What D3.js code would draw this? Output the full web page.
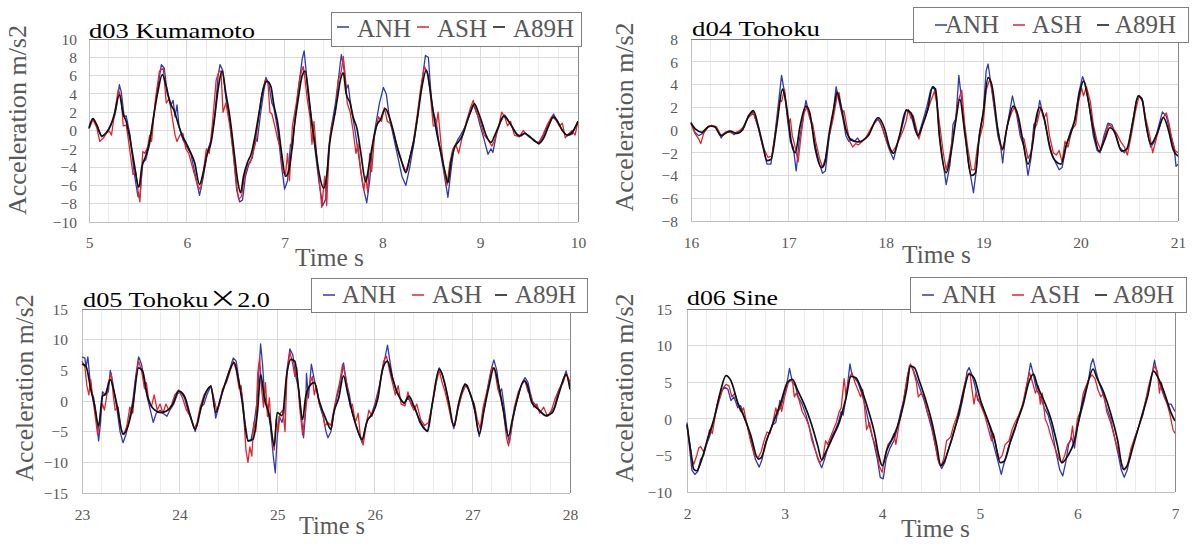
<!DOCTYPE html>
<html><head><meta charset="utf-8">
<script src="https://cdnjs.cloudflare.com/ajax/libs/d3/7.8.5/d3.min.js"></script>
<style>body{margin:0;background:#fff}svg{display:block}</style>
</head><body><svg id="c" width="1194" height="544"></svg>
<script>
// ---------- DATA ----------
const seriesNames = ["ANH", "ASH", "A89H"];
const titles = ["d03 Kumamoto", "d04 Tohoku", "d05 Tohoku×2.0", "d06 Sine"];

const yTicks03 = [-10,-8,-6,-4,-2,0,2,4,6,8,10];
const yTicks04 = [-8,-6,-4,-2,0,2,4,6,8];
const yTicks05 = [-15,-10,-5,0,5,10,15];
const yTicks06 = [-10,-5,0,5,10,15];
const xTicks03 = [5,6,7,8,9,10];
const xTicks04 = [16,17,18,19,20,21];
const xTicks05 = [23,24,25,26,27,28];
const xTicks06 = [2,3,4,5,6,7];

// d03 Kumamoto  [time s, acceleration m/s2]
const d03ANH = [[5.00,0.2],[5.04,1.3],[5.08,0.5],[5.13,-0.7],[5.18,-0.3],[5.22,0.6],[5.26,1.5],[5.28,2.5],[5.31,5.0],[5.33,4.2],[5.36,1.5],[5.38,1.6],[5.42,-0.5],[5.46,-4.5],[5.50,-7.2],[5.52,-7.3],[5.55,-3.5],[5.58,-3.2],[5.62,-1.5],[5.66,1.5],[5.70,4.5],[5.74,7.2],[5.77,6.8],[5.80,4.0],[5.82,3.5],[5.84,2.8],[5.86,3.3],[5.88,1.5],[5.90,2.8],[5.92,0.5],[5.96,-1.0],[6.00,-1.8],[6.04,-2.5],[6.08,-4.5],[6.13,-7.1],[6.17,-5.0],[6.21,-2.3],[6.25,-1.0],[6.29,2.0],[6.32,6.0],[6.34,7.2],[6.37,6.5],[6.40,3.5],[6.44,1.0],[6.48,-3.0],[6.51,-6.5],[6.54,-7.8],[6.57,-7.6],[6.60,-5.0],[6.64,-3.5],[6.67,-3.0],[6.70,-0.8],[6.72,-1.2],[6.75,1.5],[6.79,4.5],[6.81,5.8],[6.84,5.0],[6.87,3.0],[6.89,2.5],[6.93,0.0],[6.97,-4.0],[7.00,-6.4],[7.03,-5.5],[7.06,-1.5],[7.08,-2.0],[7.10,0.5],[7.14,4.5],[7.18,7.8],[7.20,8.7],[7.22,6.5],[7.24,4.0],[7.27,1.8],[7.31,-2.0],[7.35,-5.5],[7.39,-8.2],[7.42,-7.5],[7.45,-2.0],[7.48,0.5],[7.52,3.0],[7.56,6.5],[7.58,8.3],[7.61,6.5],[7.63,4.5],[7.65,5.0],[7.68,2.5],[7.72,0.0],[7.76,-3.0],[7.80,-6.0],[7.84,-7.9],[7.87,-5.5],[7.90,-1.5],[7.93,0.5],[7.97,3.0],[8.01,4.7],[8.04,4.0],[8.07,1.5],[8.11,-0.5],[8.15,-2.5],[8.20,-5.0],[8.24,-6.0],[8.28,-4.0],[8.32,-1.5],[8.36,1.5],[8.40,5.0],[8.44,8.2],[8.47,8.0],[8.50,3.5],[8.52,2.0],[8.55,1.0],[8.58,-1.5],[8.62,-4.0],[8.67,-7.3],[8.70,-4.5],[8.73,-2.0],[8.77,-1.0],[8.80,-0.5],[8.85,0.5],[8.90,2.0],[8.93,2.8],[8.97,1.8],[9.00,0.5],[9.04,-1.0],[9.08,-2.6],[9.11,-2.0],[9.13,-2.4],[9.17,-0.2],[9.21,1.0],[9.25,1.7],[9.29,1.0],[9.33,0.4],[9.37,-0.4],[9.42,-0.6],[9.46,-0.3],[9.50,-0.7],[9.55,-1.0],[9.60,-1.5],[9.65,-0.5],[9.70,0.8],[9.75,1.8],[9.79,1.0],[9.84,0.0],[9.89,-0.6],[9.94,-0.4],[10.00,1.0]];
const d03ASH = [[5.00,0.2],[5.04,1.2],[5.08,0.3],[5.11,-1.2],[5.15,-0.8],[5.18,-0.2],[5.21,-0.1],[5.23,-0.5],[5.26,1.8],[5.30,4.5],[5.33,3.5],[5.35,0.5],[5.38,0.6],[5.40,-0.8],[5.45,-4.8],[5.48,-4.6],[5.50,-6.5],[5.52,-7.8],[5.55,-2.3],[5.57,-2.5],[5.60,-1.8],[5.62,-0.5],[5.64,-1.2],[5.68,3.5],[5.72,6.5],[5.76,6.8],[5.79,3.0],[5.82,3.5],[5.85,1.5],[5.88,-0.5],[5.90,-1.2],[5.93,-0.5],[5.96,-0.3],[5.99,-2.0],[6.02,-2.5],[6.07,-4.5],[6.11,-6.0],[6.14,-6.5],[6.17,-4.5],[6.20,-2.0],[6.23,-2.5],[6.26,0.5],[6.30,5.5],[6.33,6.5],[6.35,6.5],[6.37,2.0],[6.40,3.0],[6.44,0.5],[6.47,-2.0],[6.51,-6.0],[6.53,-7.5],[6.56,-7.2],[6.59,-5.0],[6.62,-3.8],[6.65,-3.5],[6.70,-1.5],[6.73,1.0],[6.76,3.5],[6.80,5.5],[6.83,5.2],[6.85,2.0],[6.87,1.8],[6.90,0.5],[6.93,-1.0],[6.96,-2.0],[6.98,-4.5],[7.01,-4.8],[7.03,-2.5],[7.05,-5.5],[7.08,0.5],[7.12,3.0],[7.16,6.0],[7.19,7.0],[7.21,5.5],[7.23,3.5],[7.26,1.5],[7.28,-1.5],[7.30,1.0],[7.33,-3.0],[7.36,-6.0],[7.38,-8.4],[7.41,-5.0],[7.43,-8.2],[7.46,-1.0],[7.48,0.5],[7.52,2.0],[7.55,5.5],[7.58,6.5],[7.60,8.1],[7.62,6.0],[7.64,3.0],[7.67,2.0],[7.70,0.0],[7.73,-2.5],[7.75,-1.5],[7.78,-4.5],[7.81,-6.5],[7.83,-5.0],[7.85,-6.8],[7.87,-2.5],[7.89,-4.5],[7.92,-0.5],[7.96,1.5],[7.99,1.0],[8.02,2.5],[8.05,1.0],[8.08,0.8],[8.12,-0.5],[8.16,-2.0],[8.20,-3.5],[8.24,-4.5],[8.28,-3.0],[8.32,-1.0],[8.36,2.0],[8.39,4.5],[8.43,7.0],[8.47,6.0],[8.49,4.0],[8.52,0.5],[8.55,0.5],[8.57,2.0],[8.60,-1.5],[8.63,-4.5],[8.66,-6.0],[8.69,-3.5],[8.72,-2.0],[8.75,-1.5],[8.78,-2.5],[8.82,-0.5],[8.86,1.0],[8.90,2.5],[8.93,3.3],[8.96,2.0],[9.00,1.0],[9.04,-0.5],[9.08,-1.0],[9.12,-1.7],[9.15,-1.0],[9.19,0.5],[9.22,2.0],[9.25,1.5],[9.28,0.5],[9.31,1.0],[9.35,-0.5],[9.40,-0.7],[9.44,0.0],[9.48,-0.5],[9.52,-0.8],[9.56,-1.2],[9.60,-1.3],[9.64,-0.5],[9.68,0.5],[9.73,1.5],[9.77,1.2],[9.81,0.5],[9.84,0.8],[9.87,-0.8],[9.90,-0.4],[9.94,0.0],[9.97,-0.5],[10.00,1.0]];
const d03A89H = [[5.00,0.3],[5.04,1.3],[5.08,0.6],[5.13,-0.6],[5.18,-0.2],[5.22,0.5],[5.26,1.8],[5.31,3.9],[5.35,1.8],[5.38,1.0],[5.42,-1.0],[5.46,-3.5],[5.51,-6.2],[5.54,-4.0],[5.58,-2.8],[5.62,-1.2],[5.66,1.5],[5.70,4.0],[5.75,6.1],[5.79,4.8],[5.83,3.0],[5.87,2.2],[5.91,0.8],[5.95,-0.5],[5.99,-1.3],[6.03,-2.2],[6.08,-3.5],[6.13,-5.9],[6.17,-4.5],[6.21,-2.5],[6.25,-1.2],[6.28,1.0],[6.32,4.5],[6.36,6.5],[6.40,4.0],[6.44,1.5],[6.48,-2.0],[6.52,-5.5],[6.55,-6.8],[6.58,-5.0],[6.62,-3.5],[6.66,-2.5],[6.70,-0.5],[6.74,2.0],[6.78,4.5],[6.82,5.4],[6.86,4.8],[6.89,2.8],[6.93,0.8],[6.97,-2.5],[7.01,-5.0],[7.04,-4.5],[7.07,-2.5],[7.10,0.5],[7.14,3.5],[7.18,6.0],[7.21,6.5],[7.24,4.5],[7.27,1.5],[7.31,-1.5],[7.35,-4.5],[7.40,-6.3],[7.43,-5.0],[7.46,-1.5],[7.50,1.0],[7.54,3.5],[7.57,5.5],[7.60,6.3],[7.63,4.0],[7.67,3.0],[7.70,1.5],[7.74,0.2],[7.78,-2.5],[7.83,-5.6],[7.86,-4.0],[7.90,-1.5],[7.94,0.5],[7.98,1.2],[8.03,2.4],[8.07,1.5],[8.11,0.0],[8.15,-1.8],[8.20,-3.5],[8.24,-4.6],[8.28,-3.0],[8.32,-1.2],[8.36,1.5],[8.40,4.5],[8.45,6.6],[8.48,5.0],[8.52,2.0],[8.56,-0.5],[8.60,-2.5],[8.64,-4.5],[8.67,-5.7],[8.70,-3.5],[8.74,-1.8],[8.78,-1.2],[8.82,-0.5],[8.86,0.8],[8.90,2.0],[8.94,2.9],[8.98,2.0],[9.02,0.8],[9.06,-0.5],[9.11,-1.3],[9.15,-0.5],[9.19,0.5],[9.24,1.6],[9.28,1.2],[9.32,0.5],[9.36,-0.2],[9.40,-0.6],[9.45,-0.3],[9.50,-0.6],[9.55,-1.1],[9.60,-1.4],[9.65,-0.8],[9.70,0.5],[9.75,1.5],[9.79,1.0],[9.84,0.0],[9.89,-0.5],[9.94,-0.2],[10.00,1.0]];

// d04 Tohoku
const d04ANH = [[16.00,0.7],[16.04,-0.2],[16.08,-0.5],[16.12,-0.3],[16.17,0.2],[16.21,0.4],[16.26,0.2],[16.31,-0.7],[16.35,-0.2],[16.40,-0.1],[16.44,-0.4],[16.49,-0.2],[16.53,0.0],[16.59,1.3],[16.64,1.6],[16.69,0.2],[16.74,-1.6],[16.78,-3.0],[16.82,-3.0],[16.86,-0.5],[16.90,2.5],[16.93,4.8],[16.96,3.3],[16.99,1.0],[17.02,-1.0],[17.05,-1.5],[17.08,-3.6],[17.11,-1.0],[17.14,0.5],[17.18,2.6],[17.22,1.2],[17.25,0.0],[17.28,-1.5],[17.32,-3.0],[17.35,-3.8],[17.38,-3.6],[17.42,-0.5],[17.46,1.5],[17.49,3.8],[17.52,2.5],[17.56,1.0],[17.59,-0.5],[17.62,-1.0],[17.65,-0.8],[17.68,-1.0],[17.71,-0.7],[17.74,-1.1],[17.78,-0.8],[17.82,-0.4],[17.87,0.4],[17.92,1.0],[17.96,0.3],[18.00,-0.8],[18.04,-1.8],[18.08,-2.6],[18.12,-1.2],[18.16,0.0],[18.21,1.8],[18.26,1.3],[18.30,0.0],[18.33,-0.6],[18.37,0.5],[18.42,2.0],[18.46,3.5],[18.49,3.8],[18.52,3.0],[18.55,-0.5],[18.59,-3.0],[18.62,-4.8],[18.66,-3.0],[18.69,0.5],[18.72,1.0],[18.75,4.8],[18.78,2.5],[18.81,0.0],[18.85,-3.0],[18.88,-4.5],[18.90,-5.5],[18.93,-3.5],[18.96,-0.5],[19.00,1.5],[19.03,5.2],[19.05,5.8],[19.08,4.0],[19.12,1.5],[19.15,-0.5],[19.18,-1.5],[19.20,-2.9],[19.23,-0.5],[19.27,1.5],[19.30,3.0],[19.34,1.5],[19.38,-0.5],[19.42,-1.5],[19.46,-4.0],[19.49,-2.5],[19.52,0.5],[19.55,0.8],[19.58,2.6],[19.62,1.2],[19.66,-0.5],[19.70,-2.0],[19.74,-2.8],[19.78,-3.5],[19.81,-3.3],[19.85,-1.5],[19.90,0.0],[19.94,0.7],[19.98,3.2],[20.02,4.7],[20.05,4.0],[20.09,2.0],[20.13,-0.5],[20.17,-1.8],[20.20,-2.0],[20.24,-0.5],[20.28,0.6],[20.32,0.5],[20.36,-0.5],[20.40,-1.5],[20.45,-2.0],[20.49,-1.5],[20.53,0.5],[20.57,2.5],[20.60,3.0],[20.64,2.5],[20.68,0.0],[20.72,-1.5],[20.76,-1.0],[20.80,0.3],[20.84,1.6],[20.88,1.2],[20.92,-0.2],[20.96,-1.5],[20.98,-3.2],[21.00,-3.0]];
const d04ASH = [[16.00,0.6],[16.04,-0.3],[16.08,-0.8],[16.10,-1.2],[16.13,-0.3],[16.17,0.2],[16.21,0.4],[16.26,0.3],[16.31,-0.5],[16.35,-0.2],[16.40,-0.2],[16.44,-0.3],[16.49,-0.1],[16.53,0.2],[16.59,1.1],[16.64,1.5],[16.69,0.3],[16.74,-1.5],[16.79,-2.4],[16.83,-2.3],[16.87,0.0],[16.91,2.6],[16.93,2.5],[16.96,3.6],[16.98,2.0],[17.00,0.5],[17.02,1.0],[17.04,-0.5],[17.07,-1.5],[17.10,-2.8],[17.13,-0.5],[17.16,1.5],[17.19,2.0],[17.22,1.0],[17.25,0.5],[17.28,-1.0],[17.32,-2.5],[17.35,-3.3],[17.38,-2.5],[17.42,-0.5],[17.46,1.0],[17.50,3.0],[17.52,3.3],[17.55,1.5],[17.57,1.7],[17.60,0.3],[17.63,-1.0],[17.66,-1.5],[17.69,-1.2],[17.72,-1.3],[17.76,-1.0],[17.80,-0.6],[17.85,0.2],[17.90,0.9],[17.94,0.8],[17.98,-0.2],[18.02,-1.3],[18.06,-2.0],[18.10,-1.5],[18.14,-0.8],[18.18,0.0],[18.21,0.8],[18.23,1.8],[18.26,1.0],[18.28,1.3],[18.31,0.3],[18.34,-0.8],[18.38,0.5],[18.42,1.5],[18.46,2.5],[18.50,3.4],[18.53,2.0],[18.56,0.0],[18.59,-2.0],[18.62,-3.5],[18.65,-2.5],[18.68,-1.0],[18.71,0.5],[18.74,2.5],[18.78,3.5],[18.81,0.5],[18.84,-1.5],[18.88,-3.5],[18.91,-3.5],[18.94,-1.5],[18.97,-0.5],[19.00,0.5],[19.03,3.5],[19.07,4.5],[19.10,3.0],[19.13,1.0],[19.16,-0.5],[19.19,-1.8],[19.22,-1.0],[19.25,0.5],[19.29,1.5],[19.32,2.0],[19.36,1.0],[19.39,-0.5],[19.42,-0.8],[19.46,-2.5],[19.49,-2.0],[19.52,0.0],[19.55,0.5],[19.59,2.0],[19.62,1.0],[19.65,1.5],[19.68,-0.5],[19.72,-2.0],[19.75,-2.2],[19.78,-1.8],[19.81,-2.8],[19.84,-1.0],[19.87,-1.5],[19.91,0.0],[19.95,0.5],[19.98,2.5],[20.01,3.7],[20.03,3.0],[20.06,3.8],[20.10,2.5],[20.13,0.5],[20.17,-1.0],[20.21,-1.8],[20.25,-0.5],[20.29,0.5],[20.33,0.2],[20.37,-0.3],[20.41,-1.0],[20.45,-1.5],[20.48,-2.2],[20.52,-0.5],[20.56,1.5],[20.60,3.0],[20.63,2.8],[20.67,1.0],[20.71,-0.5],[20.74,-2.0],[20.77,-1.0],[20.80,0.0],[20.84,1.0],[20.88,1.5],[20.91,0.5],[20.94,-1.0],[20.97,-1.8],[21.00,-2.0]];
const d04A89H = [[16.00,0.6],[16.05,0.05],[16.11,-0.2],[16.19,0.35],[16.24,0.3],[16.31,-0.5],[16.40,-0.1],[16.47,-0.3],[16.53,0.05],[16.59,1.2],[16.64,1.7],[16.69,0.35],[16.74,-1.4],[16.78,-2.7],[16.82,-2.6],[16.88,0.35],[16.94,3.6],[16.96,3.1],[17.00,0.9],[17.03,-1.1],[17.07,-2.0],[17.12,0.35],[17.18,2.1],[17.22,1.5],[17.27,-1.4],[17.34,-3.3],[17.37,-3.0],[17.42,-0.2],[17.47,2.1],[17.50,3.3],[17.54,2.1],[17.59,0.05],[17.65,-0.9],[17.71,-1.05],[17.82,-0.5],[17.92,1.1],[17.99,0.05],[18.04,-1.55],[18.08,-2.05],[18.14,-0.5],[18.21,1.75],[18.26,1.5],[18.33,-0.5],[18.38,0.5],[18.43,1.8],[18.48,3.8],[18.51,3.6],[18.55,-0.5],[18.62,-3.75],[18.67,-2.0],[18.72,0.9],[18.76,2.7],[18.81,-0.2],[18.88,-4.0],[18.92,-3.75],[18.96,-0.5],[19.00,1.5],[19.05,4.6],[19.09,3.9],[19.15,0.05],[19.20,-1.7],[19.24,0.05],[19.31,2.1],[19.36,1.2],[19.41,-1.1],[19.46,-3.0],[19.51,-1.1],[19.54,0.9],[19.58,2.0],[19.63,0.9],[19.68,-1.4],[19.73,-2.6],[19.80,-3.0],[19.85,-1.4],[19.94,0.9],[19.99,3.3],[20.03,4.3],[20.07,3.0],[20.13,0.05],[20.19,-1.85],[20.25,-0.8],[20.30,0.2],[20.35,-0.2],[20.42,-1.85],[20.47,-1.7],[20.54,0.9],[20.59,3.0],[20.63,2.7],[20.67,0.6],[20.72,-1.25],[20.79,-0.2],[20.85,1.1],[20.90,0.05],[20.95,-1.7],[21.00,-2.3]];

// d05 Tohoku x2.0
const d05ANH = [[23.00,7.2],[23.03,7.0],[23.04,5.5],[23.06,7.2],[23.09,2.0],[23.12,0.5],[23.15,-3.0],[23.17,-6.5],[23.19,-3.5],[23.21,1.5],[23.24,1.0],[23.27,1.5],[23.29,5.0],[23.31,3.5],[23.33,1.5],[23.36,-1.5],[23.39,-5.0],[23.42,-6.8],[23.45,-5.5],[23.49,-2.5],[23.52,0.0],[23.55,4.0],[23.58,7.2],[23.61,6.0],[23.64,3.0],[23.67,0.5],[23.70,-1.5],[23.73,-3.5],[23.76,-2.0],[23.80,-1.5],[23.83,-2.0],[23.87,-2.5],[23.90,-1.5],[23.94,-0.5],[23.98,1.2],[24.01,1.5],[24.05,0.5],[24.09,-1.8],[24.13,-3.5],[24.16,-5.0],[24.19,-3.0],[24.22,-1.0],[24.25,-0.5],[24.28,1.0],[24.32,2.5],[24.35,0.0],[24.37,-2.8],[24.40,-1.0],[24.44,1.5],[24.48,3.5],[24.52,5.5],[24.55,7.0],[24.58,6.5],[24.61,3.0],[24.64,1.0],[24.67,-3.5],[24.70,-6.5],[24.73,-6.5],[24.76,-4.0],[24.79,-0.5],[24.81,4.0],[24.83,9.3],[24.85,6.0],[24.87,1.0],[24.90,-1.0],[24.93,-4.0],[24.96,-9.0],[24.98,-11.7],[25.00,-6.0],[25.02,-2.5],[25.05,-3.5],[25.07,-2.0],[25.10,5.0],[25.13,8.5],[25.16,7.5],[25.19,4.0],[25.22,2.0],[25.25,-3.0],[25.27,-6.0],[25.29,-2.0],[25.30,4.5],[25.32,0.5],[25.35,6.0],[25.38,3.5],[25.41,1.5],[25.44,-1.0],[25.47,-2.5],[25.50,-5.0],[25.52,-6.0],[25.55,-5.0],[25.58,-2.0],[25.61,0.5],[25.65,3.0],[25.68,6.2],[25.71,3.0],[25.74,1.0],[25.77,-2.0],[25.80,-3.5],[25.84,-5.5],[25.87,-6.8],[25.90,-4.5],[25.93,-3.0],[25.96,-2.5],[26.00,-0.5],[26.04,2.0],[26.08,5.0],[26.11,7.5],[26.13,9.1],[26.15,7.0],[26.18,4.0],[26.22,1.5],[26.26,0.5],[26.30,-0.5],[26.34,0.5],[26.38,-0.5],[26.42,-1.5],[26.46,-3.5],[26.50,-4.5],[26.54,-5.0],[26.58,-1.5],[26.62,2.5],[26.66,5.4],[26.69,4.5],[26.72,2.5],[26.75,0.5],[26.78,-2.5],[26.81,-4.5],[26.84,-2.0],[26.88,0.5],[26.92,2.8],[26.95,2.5],[26.99,0.5],[27.03,-2.0],[27.07,-5.8],[27.10,-3.0],[27.13,-0.5],[27.16,2.5],[27.19,5.0],[27.22,6.7],[27.25,5.0],[27.28,1.5],[27.30,2.0],[27.33,-1.5],[27.36,-5.5],[27.38,-6.8],[27.41,-3.5],[27.44,-1.0],[27.48,1.5],[27.51,3.0],[27.54,3.8],[27.57,3.0],[27.61,0.0],[27.64,-0.5],[27.68,-1.5],[27.72,-2.0],[27.76,-2.5],[27.80,-2.0],[27.84,-1.0],[27.88,1.5],[27.92,3.0],[27.96,4.9],[27.99,3.0],[28.00,2.5]];
const d05ASH = [[23.00,6.5],[23.03,5.5],[23.05,2.5],[23.07,1.0],[23.09,3.5],[23.11,0.5],[23.14,-3.0],[23.16,-5.5],[23.19,-2.0],[23.21,-0.5],[23.23,-1.5],[23.25,0.5],[23.27,3.0],[23.30,4.5],[23.32,1.0],[23.34,-1.5],[23.37,-1.0],[23.40,-4.5],[23.43,-5.5],[23.46,-4.0],[23.49,-1.0],[23.52,-2.0],[23.55,3.5],[23.58,6.5],[23.61,5.0],[23.64,2.0],[23.66,3.0],[23.68,0.5],[23.71,-1.0],[23.74,1.0],[23.77,-1.5],[23.80,-0.5],[23.83,-2.0],[23.86,-0.5],[23.89,-1.5],[23.92,-0.5],[23.95,1.0],[23.99,1.8],[24.03,0.5],[24.07,-1.5],[24.11,-2.5],[24.15,-4.5],[24.18,-3.5],[24.21,-1.0],[24.25,1.0],[24.29,2.0],[24.32,2.5],[24.35,0.5],[24.38,-1.5],[24.41,-0.5],[24.44,2.0],[24.48,3.0],[24.52,5.0],[24.55,6.5],[24.58,5.0],[24.61,2.0],[24.63,2.5],[24.66,-3.0],[24.68,-8.0],[24.70,-10.0],[24.72,-7.5],[24.74,-9.0],[24.76,-3.5],[24.78,-5.0],[24.80,4.5],[24.82,7.0],[24.84,2.0],[24.86,-1.0],[24.88,3.0],[24.90,-2.5],[24.92,0.5],[24.94,-5.0],[24.97,-8.0],[24.99,-3.0],[25.01,-5.0],[25.03,-2.0],[25.06,-1.5],[25.08,-5.0],[25.10,4.5],[25.13,8.0],[25.16,6.0],[25.18,4.0],[25.20,5.5],[25.23,-1.0],[25.26,-5.5],[25.28,-3.0],[25.31,1.0],[25.33,2.5],[25.36,4.0],[25.38,1.0],[25.40,2.5],[25.43,-0.5],[25.46,-1.5],[25.49,-4.0],[25.52,-3.5],[25.55,-4.0],[25.58,-1.5],[25.61,1.0],[25.64,3.0],[25.67,6.0],[25.70,4.0],[25.73,1.0],[25.75,-1.0],[25.77,-0.5],[25.80,-3.5],[25.83,-2.0],[25.85,-5.5],[25.88,-7.2],[25.91,-4.0],[25.94,-1.5],[25.97,-2.5],[26.01,-0.5],[26.05,2.5],[26.09,6.5],[26.12,7.3],[26.15,5.0],[26.18,3.0],[26.21,1.0],[26.24,2.5],[26.27,-0.5],[26.31,-0.8],[26.34,1.5],[26.37,-0.5],[26.40,-1.5],[26.43,-0.5],[26.47,-3.0],[26.51,-4.0],[26.55,-3.5],[26.59,-0.5],[26.63,3.0],[26.66,5.0],[26.69,3.0],[26.72,1.5],[26.75,-0.5],[26.79,-3.5],[26.82,-4.0],[26.85,-1.5],[26.89,1.0],[26.93,2.5],[26.96,2.0],[26.99,0.5],[27.02,-0.5],[27.05,-3.0],[27.08,-4.5],[27.11,-1.0],[27.14,1.0],[27.17,3.0],[27.20,5.5],[27.23,5.0],[27.26,2.0],[27.29,0.5],[27.32,-2.0],[27.35,-6.0],[27.37,-7.3],[27.40,-4.5],[27.43,-1.0],[27.47,1.5],[27.51,2.8],[27.54,3.3],[27.57,1.5],[27.60,1.0],[27.63,-1.0],[27.66,-0.5],[27.69,-2.0],[27.73,-1.0],[27.77,-2.5],[27.81,-1.5],[27.85,0.5],[27.89,2.0],[27.93,3.0],[27.96,4.5],[27.99,3.5],[28.00,3.0]];
const d05A89H = [[23.00,6.0],[23.04,5.7],[23.09,1.9],[23.13,-0.8],[23.17,-4.1],[23.21,0.8],[23.24,1.1],[23.29,3.5],[23.33,1.4],[23.36,-0.8],[23.42,-5.4],[23.46,-4.6],[23.52,-0.8],[23.58,5.4],[23.62,4.9],[23.67,0.8],[23.74,-1.4],[23.81,-1.9],[23.87,-1.6],[23.93,-0.5],[23.99,1.6],[24.05,0.8],[24.11,-2.4],[24.16,-4.6],[24.22,-1.1],[24.27,1.4],[24.32,2.4],[24.37,-1.9],[24.42,0.5],[24.47,3.0],[24.56,6.25],[24.60,3.8],[24.64,0.0],[24.70,-6.5],[24.75,-6.25],[24.80,-1.4],[24.83,4.35],[24.87,0.3],[24.92,-2.4],[24.97,-7.3],[25.00,-1.9],[25.05,-2.4],[25.10,4.6],[25.14,6.8],[25.18,6.5],[25.22,1.9],[25.26,-3.0],[25.29,0.5],[25.33,2.4],[25.38,3.0],[25.43,0.0],[25.50,-3.0],[25.55,-4.6],[25.58,-1.9],[25.63,0.5],[25.68,4.1],[25.72,1.4],[25.77,-1.9],[25.82,-4.6],[25.87,-6.25],[25.92,-3.3],[25.97,-2.2],[26.03,0.3],[26.08,5.2],[26.13,6.5],[26.18,3.8],[26.23,1.4],[26.30,-0.3],[26.35,0.8],[26.40,-0.8],[26.47,-3.5],[26.54,-4.9],[26.59,-0.3],[26.66,5.2],[26.71,3.3],[26.76,-0.3],[26.81,-4.1],[26.86,-0.3],[26.93,2.7],[26.96,1.9],[27.02,-1.1],[27.07,-5.4],[27.12,-1.4],[27.17,2.4],[27.22,5.4],[27.27,2.4],[27.31,-0.8],[27.37,-5.7],[27.41,-3.0],[27.46,0.3],[27.53,3.3],[27.56,2.7],[27.61,-0.3],[27.68,-1.4],[27.75,-2.4],[27.82,-1.9],[27.89,1.4],[27.96,4.35],[28.00,1.9]];

// d06 Sine
const d06ANH = [[2.00,-0.5],[2.03,-4.5],[2.05,-7.0],[2.08,-7.6],[2.11,-7.2],[2.14,-5.5],[2.17,-5.0],[2.20,-3.5],[2.23,-2.5],[2.27,-0.5],[2.31,2.0],[2.35,3.8],[2.39,4.3],[2.42,4.0],[2.45,2.5],[2.48,3.0],[2.52,1.5],[2.55,1.8],[2.58,0.5],[2.62,-1.0],[2.66,-3.0],[2.70,-5.5],[2.74,-6.6],[2.77,-5.5],[2.80,-3.5],[2.84,-2.0],[2.88,-0.8],[2.91,-0.5],[2.93,1.0],[2.96,1.5],[2.99,3.0],[3.02,4.5],[3.05,6.9],[3.08,5.0],[3.11,4.5],[3.14,3.0],[3.18,2.0],[3.22,0.5],[3.26,-1.5],[3.30,-3.5],[3.34,-5.5],[3.38,-6.7],[3.41,-5.5],[3.44,-4.0],[3.48,-2.5],[3.52,-1.5],[3.55,-0.5],[3.58,1.0],[3.60,0.5],[3.63,3.0],[3.67,7.5],[3.69,6.0],[3.72,5.5],[3.75,5.0],[3.79,3.5],[3.83,1.5],[3.87,-1.0],[3.91,-3.0],[3.95,-5.5],[3.98,-8.0],[4.01,-8.2],[4.04,-5.5],[4.08,-4.0],[4.12,-3.0],[4.15,-1.5],[4.19,1.0],[4.22,2.5],[4.25,5.0],[4.28,7.3],[4.31,7.0],[4.35,5.5],[4.39,4.0],[4.43,2.5],[4.47,0.5],[4.51,-1.5],[4.55,-4.0],[4.58,-6.0],[4.61,-6.8],[4.64,-6.0],[4.67,-4.5],[4.71,-3.0],[4.75,-1.0],[4.79,0.5],[4.83,3.0],[4.87,6.5],[4.89,7.0],[4.92,6.0],[4.95,4.5],[4.98,2.5],[5.02,2.0],[5.06,0.5],[5.10,-1.0],[5.14,-3.5],[5.18,-5.5],[5.22,-7.6],[5.25,-6.0],[5.29,-4.0],[5.32,-3.0],[5.36,-1.5],[5.40,0.5],[5.43,1.5],[5.46,3.0],[5.50,6.0],[5.52,7.6],[5.55,6.0],[5.58,4.0],[5.62,3.0],[5.66,1.5],[5.70,0.5],[5.74,-1.5],[5.78,-4.5],[5.82,-7.0],[5.85,-7.8],[5.88,-6.0],[5.91,-3.5],[5.94,-2.5],[5.97,-4.0],[6.00,-1.0],[6.03,0.5],[6.07,2.5],[6.11,5.0],[6.14,7.5],[6.16,8.2],[6.19,6.5],[6.22,5.0],[6.26,3.5],[6.30,1.5],[6.34,0.0],[6.38,-2.5],[6.42,-5.0],[6.45,-7.0],[6.48,-8.0],[6.51,-7.0],[6.55,-4.5],[6.59,-2.5],[6.63,-1.0],[6.67,0.5],[6.70,2.5],[6.74,4.5],[6.77,6.5],[6.79,8.0],[6.82,6.0],[6.85,4.5],[6.89,3.0],[6.93,2.0],[6.96,2.0],[6.98,1.5],[7.00,1.0]];
const d06ASH = [[2.00,-1.0],[2.03,-3.5],[2.05,-5.5],[2.07,-6.2],[2.10,-5.0],[2.12,-4.0],[2.14,-3.8],[2.17,-4.5],[2.20,-3.5],[2.23,-1.5],[2.26,-2.0],[2.29,0.5],[2.33,2.5],[2.37,4.2],[2.40,4.7],[2.43,4.5],[2.46,3.0],[2.49,3.5],[2.52,2.0],[2.55,1.0],[2.58,1.5],[2.61,-0.5],[2.65,-3.0],[2.69,-5.0],[2.73,-5.3],[2.76,-4.5],[2.79,-3.0],[2.82,-1.8],[2.85,-2.0],[2.88,-0.5],[2.91,1.5],[2.93,0.5],[2.95,2.5],[2.97,1.0],[3.00,3.0],[3.04,5.0],[3.08,5.3],[3.10,3.0],[3.12,3.5],[3.15,2.5],[3.18,1.0],[3.22,0.0],[3.25,-1.0],[3.28,-3.0],[3.32,-4.5],[3.36,-6.0],[3.39,-5.5],[3.42,-3.0],[3.44,-3.5],[3.47,-2.5],[3.50,-1.5],[3.53,-0.5],[3.56,1.0],[3.58,1.5],[3.61,5.5],[3.63,3.0],[3.66,5.5],[3.69,6.3],[3.72,5.0],[3.75,4.0],[3.78,3.0],[3.80,4.0],[3.82,1.5],[3.84,-1.5],[3.87,-0.5],[3.90,-2.5],[3.94,-4.0],[3.97,-6.5],[4.00,-7.3],[4.03,-5.0],[4.06,-3.5],[4.09,-3.0],[4.12,-2.0],[4.14,-3.5],[4.17,-1.0],[4.20,1.0],[4.23,3.5],[4.26,6.0],[4.29,7.5],[4.32,6.5],[4.35,5.0],[4.37,3.0],[4.40,3.5],[4.43,3.0],[4.46,1.0],[4.50,-0.5],[4.53,-2.5],[4.57,-5.5],[4.60,-6.5],[4.63,-5.5],[4.66,-3.0],[4.70,-2.5],[4.73,-1.0],[4.77,0.5],[4.80,2.0],[4.84,4.5],[4.87,6.0],[4.90,6.3],[4.92,4.0],[4.94,2.0],[4.96,3.5],[4.99,2.5],[5.02,1.5],[5.05,0.5],[5.08,-1.0],[5.12,-3.0],[5.14,-2.0],[5.17,-4.0],[5.20,-5.5],[5.23,-5.0],[5.26,-3.5],[5.30,-3.0],[5.33,-1.5],[5.36,-0.5],[5.40,0.5],[5.44,2.0],[5.47,4.0],[5.51,6.3],[5.54,5.0],[5.57,3.5],[5.60,4.5],[5.62,2.0],[5.64,3.5],[5.67,0.0],[5.70,-1.0],[5.73,-2.5],[5.77,-4.0],[5.81,-5.5],[5.84,-6.0],[5.87,-5.0],[5.90,-3.5],[5.93,-3.0],[5.95,-1.0],[5.97,-3.5],[6.00,0.0],[6.03,1.0],[6.06,3.5],[6.09,4.5],[6.12,5.5],[6.15,6.0],[6.18,5.5],[6.21,4.0],[6.24,3.0],[6.27,3.5],[6.30,1.0],[6.34,-0.5],[6.38,-2.5],[6.42,-4.5],[6.45,-6.0],[6.48,-7.0],[6.51,-6.5],[6.55,-4.0],[6.59,-2.5],[6.63,-1.0],[6.67,1.0],[6.70,2.5],[6.73,4.5],[6.76,6.0],[6.79,7.2],[6.82,6.5],[6.84,3.5],[6.86,5.0],[6.89,3.0],[6.92,2.0],[6.95,0.5],[6.98,-1.5],[7.00,-2.0]];
const d06A89H = [[2.00,-0.75],[2.04,-4.6],[2.07,-6.9],[2.10,-7.1],[2.14,-6.0],[2.21,-2.8],[2.28,0.15],[2.34,3.6],[2.40,5.9],[2.45,5.2],[2.52,2.2],[2.58,0.4],[2.65,-2.1],[2.73,-5.5],[2.76,-5.3],[2.82,-2.8],[2.89,-0.3],[2.96,2.2],[3.03,5.0],[3.08,5.4],[3.13,4.0],[3.20,2.0],[3.27,-0.5],[3.34,-3.7],[3.38,-5.6],[3.42,-4.6],[3.49,-2.6],[3.56,-0.5],[3.63,2.9],[3.68,5.8],[3.73,5.6],[3.78,4.3],[3.85,1.5],[3.92,-1.9],[3.97,-5.3],[4.00,-6.4],[4.05,-4.2],[4.12,-2.3],[4.19,0.4],[4.25,4.0],[4.29,7.2],[4.33,7.0],[4.38,5.2],[4.45,2.4],[4.51,-0.5],[4.56,-3.7],[4.60,-6.4],[4.63,-6.0],[4.70,-3.3],[4.77,-0.1],[4.84,4.0],[4.89,6.1],[4.94,5.6],[5.01,2.4],[5.08,-0.1],[5.15,-2.8],[5.21,-6.0],[5.25,-5.8],[5.32,-2.8],[5.38,-0.5],[5.45,2.2],[5.50,4.9],[5.55,6.1],[5.59,4.5],[5.66,2.4],[5.73,-0.1],[5.79,-3.3],[5.84,-6.0],[5.90,-5.1],[5.97,-3.0],[6.03,0.8],[6.10,4.5],[6.16,6.8],[6.20,5.6],[6.27,3.6],[6.34,0.8],[6.41,-2.8],[6.47,-6.9],[6.51,-6.4],[6.58,-3.3],[6.65,-0.1],[6.72,3.1],[6.78,6.5],[6.82,5.8],[6.89,3.6],[6.96,0.8],[7.00,-0.3]];

// ---------- LAYOUT / STYLE ----------
const colors = {ANH:"#2f3ab2", ASH:"#e1262b", A89H:"#111111"};
const widths = {ANH:1.3, ASH:1.3, A89H:1.7};
const serif = "'Liberation Serif','Times New Roman',serif";
const grayText = "#595959";

const panels = [
  {title:titles[0], series:[d03ANH,d03ASH,d03A89H], xd:[5,10], yd:[-10,10], xt:xTicks03, yt:yTicks03,
   l:89, r:578, t:39, b:222, tx:89, ty:37.5, tl:166, ylx:26, ylc:120, yll:190, ytx:77, xty:243, tsx:295, tsy:266, tsl:69,
   lg:{x:331,y:12,w:250,h:34, lx:[337,417,493], tx:[357,437,513], ty:36.5, ly:27}},
  {title:titles[1], series:[d04ANH,d04ASH,d04A89H], xd:[16,21], yd:[-8,8], xt:xTicks04, yt:yTicks04,
   l:691, r:1178, t:39, b:221, tx:692, ty:36, tl:128, ylx:633, ylc:117, yll:189, ytx:678, xty:243, tsx:902, tsy:263, tsl:69,
   lg:{x:913,y:7,w:275,h:35, lx:[935,1013,1097], tx:[945,1032,1115], ty:33, ly:25}},
  {title:titles[2], series:[d05ANH,d05ASH,d05A89H], xd:[23,28], yd:[-15,15], xt:xTicks05, yt:yTicks05,
   l:82, r:570, t:309, b:493, tx:83, ty:307, tl:187, ylx:33, ylc:388, yll:187, ytx:68, xty:515, tsx:299, tsy:534, tsl:66,
   lg:{x:311,y:278,w:276,h:34, lx:[323,412,495], tx:[342,432,515], ty:303, ly:295}},
  {title:titles[3], series:[d06ANH,d06ASH,d06A89H], xd:[2,7], yd:[-10,15], xt:xTicks06, yt:yTicks06,
   l:687, r:1175, t:309, b:492, tx:687, ty:305, tl:91, ylx:633, ylc:388, yll:189, ytx:672, xty:514, tsx:901, tsy:537, tsl:69,
   lg:{x:910,y:277,w:276,h:35, lx:[922,1012,1095], tx:[942,1030,1113], ty:303, ly:295}}
];

const svg = d3.select("#c");
svg.append("rect").attr("width",1194).attr("height",544).attr("fill","#fff");

panels.forEach(p => {
  const g = svg.append("g");
  const x = d3.scaleLinear().domain(p.xd).range([p.l, p.r]);
  const y = d3.scaleLinear().domain(p.yd).range([p.b, p.t]);

  // vertical grid every 0.2 s
  const n = Math.round((p.xd[1]-p.xd[0])/0.2);
  const vg = d3.range(n+1).map(i => p.xd[0] + i*0.2);
  g.selectAll(".vg").data(vg).join("line")
    .attr("x1", d=>x(d)).attr("x2", d=>x(d)).attr("y1", p.t).attr("y2", p.b)
    .attr("stroke", (d,i)=> i%5===0 ? "#dadada" : "#ececec").attr("stroke-width",1)
    .attr("shape-rendering","crispEdges");
  // horizontal grid
  g.selectAll(".hg").data(p.yt).join("line")
    .attr("x1", p.l).attr("x2", p.r).attr("y1", d=>y(d)).attr("y2", d=>y(d))
    .attr("stroke","#dadada").attr("stroke-width",1).attr("shape-rendering","crispEdges");

  // left / bottom axis lines
  g.append("line").attr("x1",p.l).attr("x2",p.l).attr("y1",p.t).attr("y2",p.b)
    .attr("stroke","#bfbfbf").attr("shape-rendering","crispEdges");
  g.append("line").attr("x1",p.l).attr("x2",p.r).attr("y1",p.b).attr("y2",p.b)
    .attr("stroke","#bfbfbf").attr("shape-rendering","crispEdges");

  // series
  seriesNames.forEach((name, i) => {
    const gen = d3.line().x(d=>x(d[0])).y(d=>y(d[1]));
    if (name === "A89H") gen.curve(d3.curveMonotoneX);
    g.append("path").datum(p.series[i]).attr("d", gen)
      .attr("fill","none").attr("stroke", colors[name]).attr("stroke-width", widths[name])
      .attr("stroke-linejoin","round");
  });

  // top / right frame
  g.append("line").attr("x1",p.l).attr("x2",p.r).attr("y1",p.t).attr("y2",p.t)
    .attr("stroke","#7a7a7a").attr("shape-rendering","crispEdges");
  g.append("line").attr("x1",p.r).attr("x2",p.r).attr("y1",p.t).attr("y2",p.b)
    .attr("stroke","#8a8a8a").attr("shape-rendering","crispEdges");

  // y axis tick labels
  const ya = g.append("g").attr("transform",`translate(${p.ytx},0)`)
    .call(d3.axisLeft(y).tickValues(p.yt).tickSize(0).tickPadding(0).tickFormat(d3.format("d")));
  ya.select(".domain").remove();
  ya.attr("font-family",serif);
  ya.selectAll("text").attr("font-family",serif).attr("font-size",15.5).attr("fill",grayText).attr("dy","0.34em");

  // x axis tick labels
  const xa = g.append("g").attr("transform",`translate(0,${p.xty})`)
    .call(d3.axisBottom(x).tickValues(p.xt).tickSize(0).tickPadding(0).tickFormat(d3.format("d")));
  xa.select(".domain").remove();
  xa.attr("font-family",serif);
  xa.selectAll("text").attr("font-family",serif).attr("font-size",15.5).attr("fill",grayText).attr("y",0).attr("dy","0.34em");

  // y label
  g.append("text").attr("transform",`translate(${p.ylx},${p.ylc}) rotate(-90)`)
    .attr("text-anchor","middle").attr("font-family",serif).attr("font-size",25)
    .attr("fill",grayText).attr("textLength",p.yll).attr("lengthAdjust","spacingAndGlyphs")
    .text("Acceleration m/s2");

  // x label
  g.append("text").attr("x",p.tsx).attr("y",p.tsy).attr("font-family",serif).attr("font-size",26)
    .attr("fill",grayText).attr("textLength",p.tsl).attr("lengthAdjust","spacingAndGlyphs").text("Time s");

  // title
  const tt = g.append("text").attr("x",p.tx).attr("y",p.ty).attr("font-family",serif)
    .attr("font-size",22).attr("fill","#000").attr("textLength",p.tl).attr("lengthAdjust","spacingAndGlyphs");
  p.title.split(/(×)/).forEach(part => {
    if (!part) return;
    const ts = tt.append("tspan").text(part);
    if (part === "×") ts.attr("font-family","'Noto Sans CJK JP',sans-serif").attr("font-size",24);
  });

  // legend
  const lg = g.append("g");
  lg.append("rect").attr("x",p.lg.x+0.5).attr("y",p.lg.y+0.5).attr("width",p.lg.w).attr("height",p.lg.h)
    .attr("fill","#fff").attr("stroke","#7f7f7f").attr("stroke-width",1);
  seriesNames.forEach((name,i) => {
    lg.append("line").attr("x1",p.lg.lx[i]).attr("x2",p.lg.lx[i]+12).attr("y1",p.lg.ly).attr("y2",p.lg.ly)
      .attr("stroke",colors[name]).attr("stroke-width",1.5);
    lg.append("text").attr("x",p.lg.tx[i]).attr("y",p.lg.ty).attr("font-family",serif)
      .attr("font-size",25).attr("fill",grayText).text(name);
  });
});
</script></body></html>
